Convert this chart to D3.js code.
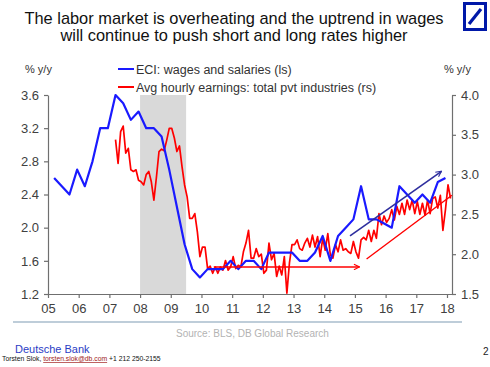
<!doctype html>
<html>
<head>
<meta charset="utf-8"/>
<title>Wages</title>
<script src="https://d3js.org/d3.v7.min.js"></script>
<style>
body { margin: 0; background: #fff; }
svg text { font-family: Arial, "Liberation Sans", sans-serif; }
</style>
</head>
<body>
<svg id="svg1"></svg>
<script>
// ECI: wages and salaries, quarterly, left scale
const eci_start = 2005.2;
const eci = [2.6, 2.5, 2.4, 2.7, 2.5, 2.8, 3.2, 3.2, 3.6, 3.5, 3.3, 3.4, 3.2, 3.2, 3.1, 2.7,
    2.25, 1.8, 1.5, 1.4, 1.5, 1.5, 1.5, 1.6, 1.5, 1.6, 1.6, 1.5, 1.7, 1.7, 1.7, 1.7,
    1.6, 1.6, 1.7, 1.9, 1.6, 1.9, 2.0, 2.1, 2.5, 2.1, 2.1, 2.05, 2.0, 2.5, 2.4, 2.3,
    2.4, 2.3, 2.55, 2.6];

// avg hourly earnings, total private, monthly, right scale
const ahe_start = 2007.2;
const ahe = [3.44, 3.14, 3.54, 3.61, 3.27, 3.33, 3.06, 3.04, 3.06, 2.93,
    2.91, 2.87, 3.00, 3.04, 2.91, 2.68, 2.97, 3.29, 3.32, 3.30,
    3.43, 3.58, 3.58, 3.46, 3.29, 3.36, 3.10, 2.87, 2.72, 2.45,
    2.45, 2.51, 2.28, 1.97, 2.09, 2.09, 1.82, 1.85, 1.76, 1.84,
    1.76, 1.84, 1.80, 1.92, 1.80, 1.84, 1.97, 1.82, 1.86, 1.84,
    2.03, 2.14, 2.30, 1.95, 1.95, 2.07, 1.97, 2.00, 1.76, 1.80,
    2.14, 1.93, 2.01, 1.72, 1.85, 1.74, 1.97, 1.51, 1.89, 2.12,
    2.12, 2.18, 2.07, 2.05, 2.14, 2.20, 2.09, 2.24, 2.09, 2.22,
    1.97, 2.20, 2.05, 2.26, 1.99, 1.95, 2.12, 2.03, 2.18, 2.05,
    2.07, 2.03, 2.01, 2.16, 2.03, 1.95, 2.18, 2.21, 2.18, 2.30,
    2.16, 2.30, 2.20, 2.51, 2.37, 2.48, 2.40, 2.45, 2.56, 2.43,
    2.60, 2.50, 2.64, 2.50, 2.68, 2.56, 2.68, 2.51, 2.66, 2.50,
    2.64, 2.49, 2.68, 2.51, 2.70, 2.72, 2.58, 2.74, 2.30, 2.56,
    2.87, 2.70];

const recession = [2008.0, 2009.5];
const years = d3.range(2005, 2019);
const year_labels = ['05', '06', '07', '08', '09', '10', '11', '12', '13', '14', '15', '16', '17', '18'];
const left_ticks = [1.2, 1.6, 2.0, 2.4, 2.8, 3.2, 3.6];
const right_ticks = [1.5, 2.0, 2.5, 3.0, 3.5, 4.0];

// trend arrows drawn on the chart, [year, value]
const flat_arrow = [[2010.4, 1.84], [2015.15, 1.84]];   // rs
const red_trend = [[2015.38, 1.94], [2018.16, 2.74]];   // rs
const blue_trend = [[2014.84, 1.90], [2017.82, 2.68]];  // ls

const W = 490, H = 367;
const svg = d3.select('#svg1').attr('width', W).attr('height', H);

const x = d3.scaleLinear().domain([2005, 2018.163]).range([48, 452]);
const yl = d3.scaleLinear().domain([1.2, 3.6]).range([294, 95]);
const yr = d3.scaleLinear().domain([1.5, 4.0]).range([294, 95]);

// title
const title = svg.append('text').attr('text-anchor', 'middle').attr('font-size', 16.4).attr('fill', '#111');
title.append('tspan').attr('x', 234).attr('y', 24).text('The labor market is overheating and the uptrend in wages');
title.append('tspan').attr('x', 234).attr('y', 41).text('will continue to push short and long rates higher');

// logo
svg.append('rect').attr('x', 464.5).attr('y', 3.5).attr('width', 21).attr('height', 26)
    .attr('fill', '#fff').attr('stroke', '#0018a8').attr('stroke-width', 3);
svg.append('line').attr('x1', 469).attr('y1', 24).attr('x2', 481).attr('y2', 9)
    .attr('stroke', '#0018a8').attr('stroke-width', 3.2);

// recession shading
svg.append('rect')
    .attr('x', x(recession[0])).attr('y', yl(3.6))
    .attr('width', x(recession[1]) - x(recession[0])).attr('height', yl(1.2) - yl(3.6))
    .attr('fill', '#d9d9d9');

// axes
function style_axis(g) {
    g.selectAll('path, line').attr('stroke', '#6f6f6f').attr('stroke-width', 1.2);
    g.selectAll('text').attr('fill', '#404040').attr('font-size', 13)
        .attr('font-family', 'Arial, "Liberation Sans", sans-serif');
}
svg.append('g').attr('transform', 'translate(' + x(2005) + ',0)')
    .call(d3.axisLeft(yl).tickValues(left_ticks).tickFormat(d3.format('.1f')).tickSize(4).tickSizeOuter(0).tickPadding(5))
    .call(style_axis);
svg.append('g').attr('transform', 'translate(' + x.range()[1] + ',0)')
    .call(d3.axisRight(yr).tickValues(right_ticks).tickFormat(d3.format('.1f')).tickSize(4).tickSizeOuter(0).tickPadding(5))
    .call(style_axis);
svg.append('g').attr('transform', 'translate(0,' + yl(1.2) + ')')
    .call(d3.axisBottom(x).tickValues(years).tickFormat((d, i) => year_labels[i]).tickSize(4).tickSizeOuter(0).tickPadding(6))
    .call(style_axis);

// unit labels
svg.append('text').attr('x', 25).attr('y', 73).attr('font-size', 11).attr('fill', '#333').text('% y/y');
svg.append('text').attr('x', 444).attr('y', 73).attr('font-size', 11).attr('fill', '#333').text('% y/y');

// legend
svg.append('line').attr('x1', 118).attr('x2', 134).attr('y1', 69).attr('y2', 69).attr('stroke', '#1a1aff').attr('stroke-width', 2);
svg.append('text').attr('x', 136).attr('y', 73.5).attr('font-size', 12.5).attr('fill', '#333').text('ECI: wages and salaries (ls)');
svg.append('line').attr('x1', 118).attr('x2', 134).attr('y1', 87).attr('y2', 87).attr('stroke', '#ff0000').attr('stroke-width', 2);
svg.append('text').attr('x', 136).attr('y', 91.5).attr('font-size', 12.5).attr('fill', '#333').text('Avg hourly earnings: total pvt industries (rs)');

// series
const line_l = d3.line().x(d => x(d[0])).y(d => yl(d[1]));
const line_r = d3.line().x(d => x(d[0])).y(d => yr(d[1]));

svg.append('path')
    .datum(ahe.map((v, i) => [ahe_start + i / 12, v]))
    .attr('d', line_r).attr('fill', 'none').attr('stroke', '#ff0000').attr('stroke-width', 1.7)
    .attr('stroke-linejoin', 'round');
svg.append('path')
    .datum(eci.map((v, i) => [eci_start + i / 4, v]))
    .attr('d', line_l).attr('fill', 'none').attr('stroke', '#1a1aff').attr('stroke-width', 2.2)
    .attr('stroke-linejoin', 'round');

// arrows
const defs = svg.append('defs');
function marker(id, color) {
    defs.append('marker').attr('id', id).attr('viewBox', '0 0 10 10')
        .attr('refX', 9).attr('refY', 5).attr('markerWidth', 7).attr('markerHeight', 7)
        .attr('markerUnits', 'userSpaceOnUse').attr('orient', 'auto')
        .append('path').attr('d', 'M1,1 L9,5 L1,9').attr('fill', 'none').attr('stroke', color).attr('stroke-width', 1.6);
}
marker('head_red', '#ff0000');
marker('head_navy', '#2e2e9e');

svg.append('path').datum(flat_arrow).attr('d', line_r).attr('stroke', '#ff0000').attr('stroke-width', 1.4)
    .attr('fill', 'none').attr('marker-end', 'url(#head_red)');
svg.append('path').datum(red_trend).attr('d', line_r).attr('stroke', '#ff0000').attr('stroke-width', 1.4)
    .attr('fill', 'none');
svg.append('path').datum(blue_trend).attr('d', line_l).attr('stroke', '#2e2e9e').attr('stroke-width', 1.6)
    .attr('fill', 'none').attr('marker-end', 'url(#head_navy)');

// footer
svg.append('line').attr('x1', 13).attr('x2', 462).attr('y1', 322).attr('y2', 322)
    .attr('stroke', '#a9bccc').attr('stroke-width', 1.5);
svg.append('text').attr('x', 176).attr('y', 337).attr('font-size', 10).attr('fill', '#b3b3b3')
    .text('Source: BLS, DB Global Research');
svg.append('text').attr('x', 15).attr('y', 353).attr('font-size', 11).attr('fill', '#2a3cc4').text('Deutsche Bank');
const contact = svg.append('text').attr('x', 2).attr('y', 361).attr('font-size', 6.8).attr('fill', '#111');
contact.append('tspan').text('Torsten Slok, ');
contact.append('tspan').attr('fill', '#a01818').attr('text-decoration', 'underline').text('torsten.slok@db.com');
contact.append('tspan').text('  +1 212 250-2155');
svg.append('text').attr('x', 483).attr('y', 355).attr('font-size', 10).attr('fill', '#222').text('2');
</script>
</body>
</html>
